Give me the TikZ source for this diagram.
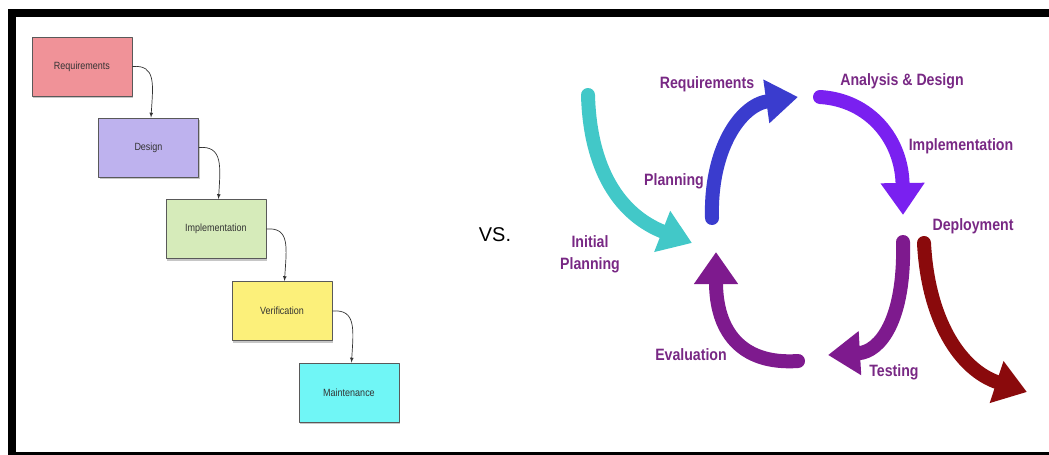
\documentclass[tikz,border=0pt]{standalone}
\usepackage{fontspec}
\setmainfont{Liberation Sans}
\newfontfamily\narrowfont[FakeStretch=0.86]{Liberation Sans}
\usetikzlibrary{arrows.meta,shadows}
\definecolor{reqpink}{RGB}{240,146,152}
\definecolor{deslav}{RGB}{190,178,238}
\definecolor{impgreen}{RGB}{214,235,186}
\definecolor{veryellow}{RGB}{252,240,122}
\definecolor{mntcyan}{RGB}{112,246,246}
\definecolor{labelpurple}{RGB}{120,40,132}
\definecolor{cyteal}{RGB}{66,200,200}
\definecolor{cyblue}{RGB}{58,60,206}
\definecolor{cyviolet}{RGB}{122,32,240}
\definecolor{cypurple}{RGB}{126,26,142}
\definecolor{cyred}{RGB}{138,10,12}
\begin{document}
\begin{tikzpicture}[>=latex,line join=bevel,
  phase/.style={draw=black!65,line width=0.8bp,minimum width=100bp,minimum height=59bp,inner sep=0pt,
    font=\narrowfont\fontsize{10.5}{12}\selectfont,text=black!80,
    drop shadow={shadow xshift=1bp,shadow yshift=-2bp,opacity=0.45}},
  flow/.style={black!80,line width=0.7bp,->},
  stage/.style={font=\narrowfont\bfseries\fontsize{16.5}{19}\selectfont,text=labelpurple,align=center},
  turn/.style={line width=14bp,line cap=round,-{Triangle[length=32bp,width=42bp]}},
]
\useasboundingbox (0bp,0bp) rectangle (1049bp,-455bp);
%% frame
\fill[black] (8bp,-9bp) rectangle (1049bp,-17bp);
\fill[black] (8bp,-9bp) rectangle (16bp,-455bp);
\fill[black] (8bp,-452bp) rectangle (1049bp,-455bp);
%% waterfall
\node (req) at (82bp,-66.5bp) [phase,fill=reqpink] {Requirements};
  \node (des) at (148.5bp,-147.5bp) [phase,fill=deslav] {Design};
  \node (imp) at (216bp,-229bp) [phase,fill=impgreen] {Implementation};
  \node (ver) at (282bp,-311bp) [phase,fill=veryellow] {Verification};
  \node (mnt) at (349bp,-392.5bp) [phase,fill=mntcyan] {Maintenance};
\foreach \a/\b in {req/des,des/imp,imp/ver,ver/mnt}
  \draw [flow] (\a.east) ..controls +(24bp,2bp) and +(2bp,33bp) .. ([xshift=2.5bp]\b.north);
%%
\node (vs) at (495bp,-235bp) [font=\fontsize{20}{24}\selectfont] {VS.};
%% cycle
\node (l_req) at (707bp,-84bp) [stage] {Requirements};
  \node (l_ad) at (902bp,-81bp) [stage] {Analysis \& Design};
  \node (l_imp) at (961bp,-146bp) [stage] {Implementation};
  \node (l_plan) at (674bp,-181bp) [stage] {Planning};
  \node (l_dep) at (973bp,-226bp) [stage] {Deployment};
  \node (l_init) at (590bp,-254bp) [stage] {Initial\\[3bp]Planning};
  \node (l_eval) at (691bp,-355bp) [stage] {Evaluation};
  \node (l_test) at (894bp,-372bp) [stage] {Testing};
\coordinate (init_a) at (588bp,-95bp);
  \coordinate (init_b) at (692bp,-243bp);
  \coordinate (plan_a) at (712bp,-218bp);
  \coordinate (plan_b) at (798bp,-97bp);
  \coordinate (ad_a) at (820bp,-97bp);
  \coordinate (ad_b) at (903bp,-215bp);
  \coordinate (test_a) at (903bp,-242bp);
  \coordinate (test_b) at (828bp,-355bp);
  \coordinate (eval_a) at (798bp,-361bp);
  \coordinate (eval_b) at (716bp,-252bp);
  \coordinate (dep_a) at (924bp,-243bp);
  \coordinate (dep_b) at (1027bp,-392bp);
\draw [turn,cyteal] (init_a) ..controls (590bp,-170bp) and (620bp,-215bp) .. (init_b);
\draw [turn,cyblue] (plan_a) ..controls (710bp,-150bp) and (740bp,-105bp) .. (plan_b);
\draw [turn,cyviolet] (ad_a) ..controls (870bp,-100bp) and (902bp,-140bp) .. (ad_b);
\draw [turn,cypurple] (test_a) ..controls (905bp,-320bp) and (880bp,-352bp) .. (test_b);
\draw [turn,cypurple] (eval_a) ..controls (740bp,-365bp) and (716bp,-330bp) .. (eval_b);
\draw [turn,cyred] (dep_a) ..controls (928bp,-320bp) and (960bp,-370bp) .. (dep_b);
%
\end{tikzpicture}
\end{document}
